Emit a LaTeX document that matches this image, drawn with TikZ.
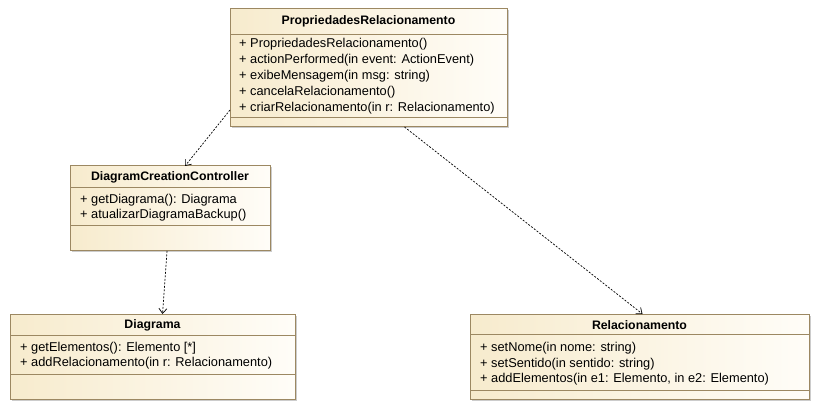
\documentclass[tikz,border=0pt]{standalone}
\usepackage{fontspec}
\setmainfont{Liberation Sans}
\usetikzlibrary{positioning}
\usetikzlibrary{arrows.meta}
\usetikzlibrary{calc}
\usetikzlibrary{shadows}
\definecolor{umlfill}{HTML}{F7EBCD}
\definecolor{umlright}{HTML}{FFFDF8}
\definecolor{umlline}{HTML}{9C8862}
\tikzstyle{classbox}=[draw=umlline,line width=1pt,shape=rectangle,left color=umlfill,right color=umlright,anchor=north west,inner sep=0pt,outer sep=0pt,drop shadow={shadow xshift=1.5pt,shadow yshift=-1.5pt,fill=black!40,opacity=0.5}]
\tikzstyle{classname}=[black,inner sep=0pt,font=\bfseries\fontsize{12.3}{14}\selectfont]
\tikzstyle{oper}=[black,anchor=west,inner sep=0pt,font=\fontsize{12.8}{15}\selectfont]
\tikzstyle{sep}=[draw=umlline,line width=1pt]
\tikzstyle{dep}=[-{Straight Barb[length=5pt,width=8pt]},line width=0.7pt,dash pattern=on 2pt off 1.5pt,color=black]

\begin{document}
\begin{tikzpicture}[x=1pt,y=-1pt]
	\useasboundingbox (0,0) rectangle (821,411);
	
	% PropriedadesRelacionamento
	\node[classbox,minimum width=277pt,minimum height=118pt] (props) at (230,9) {};
	\draw[sep] (props.west |- 0,35) -- (props.east |- 0,35);
	\draw[sep] (props.west |- 0,118) -- (props.east |- 0,118);
	\node[classname] (propsname) at (props.north |- 0,21) {PropriedadesRelacionamento};
	\node[oper] (propsop1) at (239,44) {+ PropriedadesRelacionamento()};
	\node[oper] (propsop2) at (239,60) {+ actionPerformed(in event: ActionEvent)};
	\node[oper] (propsop3) at (239,76) {+ exibeMensagem(in msg: string)};
	\node[oper] (propsop4) at (239,92) {+ cancelaRelacionamento()};
	\node[oper] (propsop5) at (239,108) {+ criarRelacionamento(in r: Relacionamento)};
	
	% DiagramCreationController
	\node[classbox,minimum width=200pt,minimum height=85pt] (ctrl) at (70,166) {};
	\draw[sep] (ctrl.west |- 0,188) -- (ctrl.east |- 0,188);
	\draw[sep] (ctrl.west |- 0,226) -- (ctrl.east |- 0,226);
	\node[classname] (ctrlname) at (ctrl.north |- 0,177) {DiagramCreationController};
	\node[oper] (ctrlop1) at (80,200) {+ getDiagrama(): Diagrama};
	\node[oper] (ctrlop2) at (80,215) {+ atualizarDiagramaBackup()};
	
	% Diagrama
	\node[classbox,minimum width=285pt,minimum height=85pt] (diag) at (10,314) {};
	\draw[sep] (diag.west |- 0,335) -- (diag.east |- 0,335);
	\draw[sep] (diag.west |- 0,374) -- (diag.east |- 0,374);
	\node[classname] (diagname) at (diag.north |- 0,325) {Diagrama};
	\node[oper] (diagop1) at (20,348) {+ getElementos(): Elemento [*]};
	\node[oper] (diagop2) at (20,363) {+ addRelacionamento(in r: Relacionamento)};
	
	% Relacionamento
	\node[classbox,minimum width=339pt,minimum height=85pt] (rel) at (470,314) {};
	\draw[sep] (rel.west |- 0,334) -- (rel.east |- 0,334);
	\draw[sep] (rel.west |- 0,390) -- (rel.east |- 0,390);
	\node[classname] (relname) at (rel.north |- 0,325) {Relacionamento};
	\node[oper] (relop1) at (480,348) {+ setNome(in nome: string)};
	\node[oper] (relop2) at (480,364) {+ setSentido(in sentido: string)};
	\node[oper] (relop3) at (480,379) {+ addElementos(in e1: Elemento, in e2: Elemento)};
	
	% dependencies
	\draw[dep] ([yshift=17pt]props.south west) -- ([xshift=15pt]ctrl.north);
	\draw[dep] ([xshift=-3pt]ctrl.south) -- ([xshift=10pt]diag.north);
	\draw[dep] ([xshift=36pt]props.south) -- ([xshift=3pt]rel.north);
	
\end{tikzpicture}
\end{document}
